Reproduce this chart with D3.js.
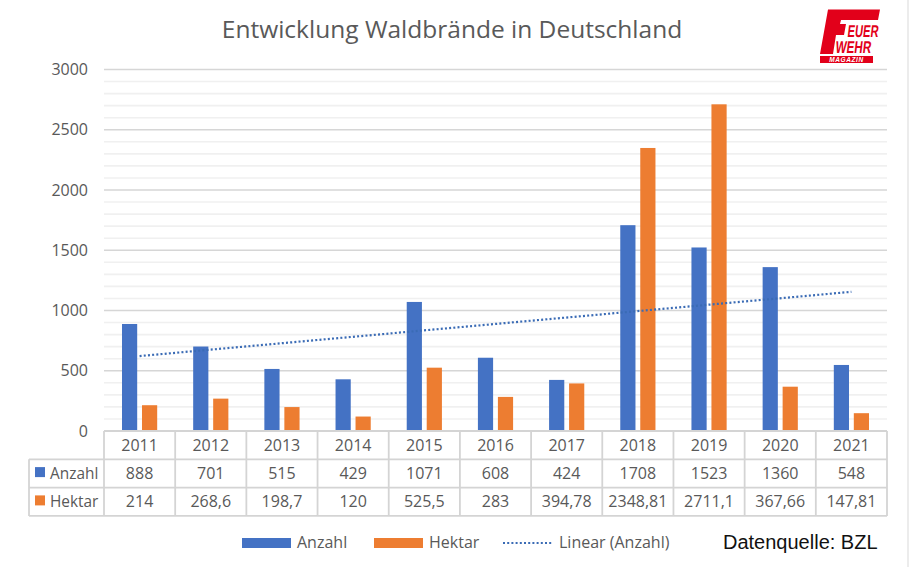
<!DOCTYPE html>
<html>
<head>
<meta charset="utf-8">
<script src="https://cdn.jsdelivr.net/npm/d3@7"></script>
<style>
  html, body { margin: 0; padding: 0; background: #fff; }
  svg { display: block; }
  text { font-family: "Open Sans", "Noto Sans", sans-serif; fill: #595959; }
</style>
</head>
<body>
<div id="chart"></div>
<script>
const years = ['2011', '2012', '2013', '2014', '2015', '2016', '2017', '2018', '2019', '2020', '2021']
const anzahl = [888, 701, 515, 429, 1071, 608, 424, 1708, 1523, 1360, 548]
const hektar = [214, 268.6, 198.7, 120, 525.5, 283, 394.78, 2348.81, 2711.1, 367.66, 147.81]
// trend line as read at first and last year
const trendAnzahl = [622, 1155]
const majorTicks = [0, 500, 1000, 1500, 2000, 2500, 3000]
const minorTicks = d3.range(0, 3001, 100)
const seriesNames = ['Anzahl', 'Hektar']

const blue = '#4472c4'
const orange = '#ed7d31'
const gridColor = '#d6d6d6'
const tableColor = '#d4d4d4'

const width = 909
const height = 567
const left = 104
const right = 887
const top0 = 69.5
const bottom = 431
const rowH = 28.3
const tableLeft = 29

const svg = d3.select('#chart').append('svg').attr('width', width).attr('height', height)

const x = d3.scaleBand().domain(years).range([left, right])
const inner = d3.scaleBand().domain(seriesNames).range([0, x.bandwidth()])
  .paddingInner(0.24).paddingOuter(0.9)
const y = d3.scaleLinear().domain([0, 3000]).range([bottom, top0])

// picture edge
svg.append('line').attr('x1', 908).attr('x2', 908).attr('y1', 0).attr('y2', height)
  .attr('stroke', '#e6e6e6').attr('stroke-width', 1.5)

svg.append('text').attr('x', 452).attr('y', 38).attr('text-anchor', 'middle')
  .style('font-size', '24.5px').text('Entwicklung Waldbrände in Deutschland')

// grid
svg.append('g').selectAll('line').data(minorTicks.filter(d => d % 500 !== 0)).enter().append('line')
  .attr('x1', left).attr('x2', right)
  .attr('y1', d => y(d)).attr('y2', d => y(d))
  .attr('stroke', '#f0f0f0').attr('stroke-width', 1.6)
svg.append('g').selectAll('line').data(majorTicks.filter(d => d > 0)).enter().append('line')
  .attr('x1', left).attr('x2', right)
  .attr('y1', d => y(d)).attr('y2', d => y(d))
  .attr('stroke', gridColor).attr('stroke-width', 1.6)

// y axis
const yAxis = svg.append('g').attr('transform', 'translate(88,0)')
  .call(d3.axisLeft(y).tickValues(majorTicks).tickFormat(d3.format('d')).tickSize(0).tickPadding(0))
yAxis.select('.domain').remove()
yAxis.selectAll('text').style('font-size', '16px').style('font-family', '"Open Sans", sans-serif').style('fill', '#595959')

// bars
const groups = svg.append('g').selectAll('g').data(years).enter().append('g')
  .attr('transform', d => 'translate(' + x(d) + ',0)')
groups.append('rect')
  .attr('x', inner('Anzahl')).attr('width', inner.bandwidth())
  .attr('y', (d, i) => y(anzahl[i])).attr('height', (d, i) => bottom - y(anzahl[i]))
  .attr('fill', blue)
groups.append('rect')
  .attr('x', inner('Hektar')).attr('width', inner.bandwidth())
  .attr('y', (d, i) => y(hektar[i])).attr('height', (d, i) => bottom - y(hektar[i]))
  .attr('fill', orange)

// trend line
const mid = d => x(d) + x.bandwidth() / 2
svg.append('line')
  .attr('x1', mid(years[0])).attr('y1', y(trendAnzahl[0]))
  .attr('x2', mid(years[years.length - 1])).attr('y2', y(trendAnzahl[1]))
  .attr('stroke', '#3a6bb5').attr('stroke-width', 2.2).attr('stroke-dasharray', '2 2.2')

// data table
const table = svg.append('g')
const tableLine = (x1, y1, x2, y2) => table.append('line')
  .attr('x1', x1).attr('y1', y1).attr('x2', x2).attr('y2', y2)
  .attr('stroke', tableColor).attr('stroke-width', 1.8)
for (let r = 0; r <= 3; r++) {
  tableLine(r === 0 ? left : tableLeft, bottom + r * rowH, right, bottom + r * rowH)
}
tableLine(tableLeft, bottom + rowH, tableLeft, bottom + 3 * rowH)
years.forEach(d => tableLine(x(d), bottom, x(d), bottom + 3 * rowH))
tableLine(right, bottom, right, bottom + 3 * rowH)

const xAxis = table.append('g').attr('transform', 'translate(0,' + bottom + ')')
  .call(d3.axisBottom(x).tickSize(0).tickPadding(0))
xAxis.select('.domain').remove()
xAxis.selectAll('text').attr('y', 19.5).attr('dy', 0).style('font-size', '16px')
  .style('font-family', '"Open Sans", sans-serif').style('fill', '#595959')

const fmt = v => String(v).replace('.', ',')
const rows = [anzahl, hektar]
const rowColors = [blue, orange]
rows.forEach((values, r) => {
  const by = bottom + (r + 2) * rowH - 8.5
  table.append('g').selectAll('text').data(values).enter().append('text')
    .attr('x', (d, i) => mid(years[i])).attr('y', by)
    .attr('text-anchor', 'middle').style('font-size', '16px').text(fmt)
  table.append('rect').attr('x', 35).attr('y', by - 12).attr('width', 10).attr('height', 10)
    .attr('fill', rowColors[r])
  table.append('text').attr('x', 50).attr('y', by).style('font-size', '15.4px').text(seriesNames[r])
})

// legend
const legend = svg.append('g')
const legendY = 543
legend.append('rect').attr('x', 242).attr('y', legendY - 5).attr('width', 49).attr('height', 10).attr('fill', blue)
legend.append('text').attr('x', 297).attr('y', legendY + 5).style('font-size', '16px').text('Anzahl')
legend.append('rect').attr('x', 374).attr('y', legendY - 5).attr('width', 49).attr('height', 10).attr('fill', orange)
legend.append('text').attr('x', 429).attr('y', legendY + 5).style('font-size', '16px').text('Hektar')
legend.append('line').attr('x1', 503).attr('x2', 552).attr('y1', legendY).attr('y2', legendY)
  .attr('stroke', '#3a6bb5').attr('stroke-width', 2.2).attr('stroke-dasharray', '2 2.2')
legend.append('text').attr('x', 559).attr('y', legendY + 5).style('font-size', '16px').text('Linear (Anzahl)')

svg.append('text').attr('x', 723).attr('y', 549)
  .style('font-family', '"Liberation Sans", Arial, sans-serif').style('font-size', '20px').style('fill', '#111')
  .text('Datenquelle: BZL')

// logo
const logo = svg.append('g')
const red = '#e2001a'
logo.append('path').attr('d', 'M828,9.5 L880,9.5 L878,20 L841,20 L840,24 L846,24 L844,35 L836,35 L833,54 L820,54 Z').attr('fill', red)
logo.append('rect').attr('x', 820).attr('y', 56).attr('width', 53).attr('height', 7).attr('fill', red)
const logoText = (t, tx, ty, sx, sy) => logo.append('text')
  .attr('transform', 'translate(' + tx + ',' + ty + ') scale(' + sx + ',' + sy + ') skewX(-10)')
  .style('font-family', '"Liberation Sans Narrow", "Liberation Sans", sans-serif')
  .style('font-weight', 700).style('font-size', '18px').style('fill', red).text(t)
logoText('EUER', 847, 37, 0.62, 0.95)
logoText('WEHR', 835, 53, 0.65, 0.95)
logo.append('text').attr('x', 846.5).attr('y', 62).attr('text-anchor', 'middle')
  .style('font-family', '"Liberation Sans", sans-serif').style('font-weight', 700).style('font-style', 'italic')
  .style('font-size', '6.5px').style('letter-spacing', '0.6px').style('fill', '#fff').text('MAGAZIN')
</script>
</body>
</html>
